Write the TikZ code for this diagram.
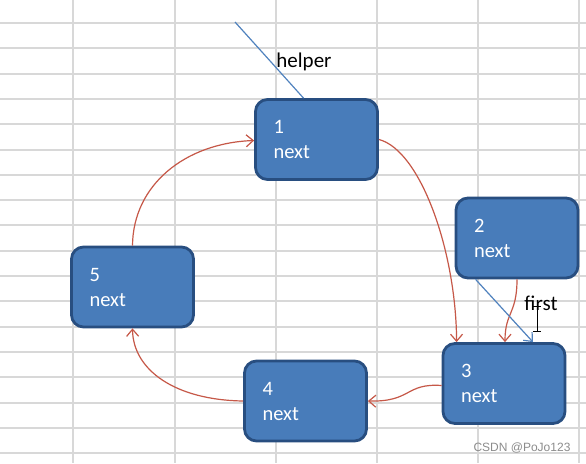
\documentclass[tikz,border=0pt]{standalone}
\usepackage{fontspec}
\setmainfont{Carlito}
\newfontfamily\wmfont{Liberation Sans}
\usetikzlibrary{arrows.meta,calc}
\definecolor{nodefill}{RGB}{72,124,186}
\definecolor{nodeedge}{RGB}{40,78,128}
\definecolor{linkred}{RGB}{198,88,72}
\definecolor{ptrblue}{RGB}{80,130,190}
\definecolor{gridgray}{RGB}{216,216,216}
\begin{document}
\begin{tikzpicture}[x=1pt,y=-1pt,
  listnode/.style={draw=nodeedge, fill=nodefill, line width=2.8pt, rounded corners=12pt,
    text=white, font=\fontsize{20.5}{25}\selectfont, align=left, text width=86pt,
    inner xsep=18pt, inner ysep=0pt, minimum height=80pt},
  nodetext/.style={text=white, font=\fontsize{20.5}{25}\selectfont, align=left, inner sep=0pt},
  link/.style={draw=linkred, line width=1.2pt, -{Straight Barb[length=7pt,width=12pt]}},
  ptr/.style={draw=ptrblue, line width=1.2pt},
  lbl/.style={font=\fontsize{21}{24}\selectfont, text=black, inner sep=0pt}]
\useasboundingbox (0,0) rectangle (586,463);
\fill[white] (0,0) rectangle (586,463);
\foreach \gx in {73,175,276,377,478,579} \draw[gridgray, line width=2pt] (\gx,0) -- (\gx,463);
\foreach \k in {0,...,17} \draw[gridgray, line width=2pt] (0,23+25.3*\k) -- (586,23+25.3*\k);

\node[listnode] (n1) at (316.5,139.5) {\raisebox{2pt}{\parbox{86pt}{1\\next}}};
\node[listnode] (n2) at (517,238) {\raisebox{2pt}{\parbox{86pt}{2\\next}}};
\node[listnode] (n3) at (504,383.5) {\raisebox{2pt}{\parbox{86pt}{3\\next}}};
\node[listnode] (n4) at (305.5,401) {\raisebox{2pt}{\parbox{86pt}{4\\next}}};
\node[listnode] (n5) at (132.5,287) {\raisebox{2pt}{\parbox{86pt}{5\\next}}};

\coordinate (h) at (235,22);
\draw[ptr] (h) -- ($(n1.north)+(-13,0)$);
\node[lbl] (hl) at (304,62) {helper};

\draw[link] (n1.east) .. controls (420,150) and (456,250) .. ($(n3.north west)+(15,0)$);
\draw[link] (n2.south) .. controls (517,314) and (505,312) .. ($(n3.north)+(1,0)$);
\draw[link] ($(n3.west)+(0,2)$) .. controls (405,383) and (412,402) .. (n4.east);
\draw[link] (n4.west) .. controls (175,400) and (133,370) .. (n5.south);
\draw[link] (n5.north) .. controls (133,185) and (185,143) .. ($(n1.west)+(0,1)$);

\draw[ptr, -{Straight Barb[length=7pt,width=12pt]}] ($(n2.south west)+(21,0)$) -- ($(n3.north)+(29,0)$);
\node[lbl] (fl) at (541,303) {first};
\draw[black, line width=1pt] (537,306) -- (537,331) (533,306) -- (541,306) (533,331) -- (541,331);

\node[font=\wmfont\fontsize{12}{14}\selectfont, text=black!45, inner sep=0pt] (wm) at (522,448) {CSDN @PoJo123};
\end{tikzpicture}
\end{document}
